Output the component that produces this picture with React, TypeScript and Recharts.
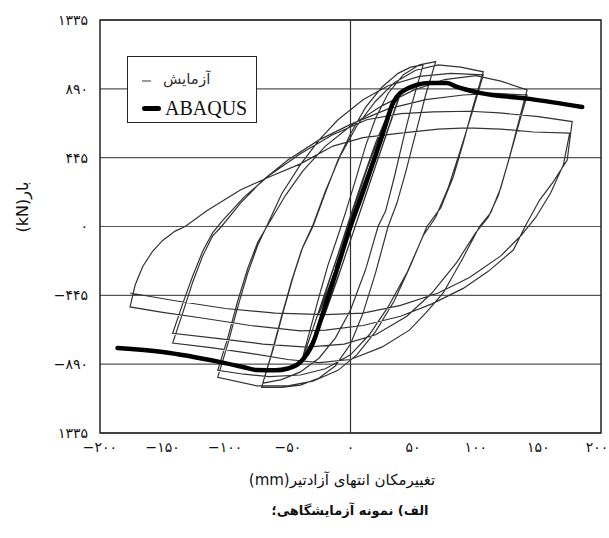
import React from 'react'
import {
  ComposedChart, Line, XAxis, YAxis, CartesianGrid, ReferenceLine, ReferenceArea
} from 'recharts'

type Pt = [number, number]

// محور ها
const xTicks = [-200, -150, -100, -50, 0, 50, 100, 150, 200]
const xTickLabels = ['−۲۰۰', '−۱۵۰', '−۱۰۰', '−۵۰', '۰', '۵۰', '۱۰۰', '۱۵۰', '۲۰۰']
const yTicks = [-1335, -890, -445, 0, 445, 890, 1335]
const yTickLabels = ['۱۳۳۵', '−۸۹۰', '−۴۴۵', '۰', '۴۴۵', '۸۹۰', '۱۳۳۵']

// متن ها
const xTitle = 'تغییرمکان انتهای آزادتیر(mm)'
const yTitle = 'بار(kN)'
const caption = 'الف) نمونه آزمایشگاهی؛'
const legendTest = 'آزمایش'
const legendModel = 'ABAQUS'

// ABAQUS (منحنی پوش)
const abaqusX = [-186, -150, -104, -86, -75, -60, -50, -40, -30, -22, -11, 0, 9, 19, 26, 34, 45, 63, 77, 85, 103, 143, 185]
const abaqusY = [-786, -812, -877, -908, -928, -930, -918, -877, -754, -560, -281, 0, 200, 437, 605, 800, 890, 928, 928, 902, 864, 825, 773]

// آزمایش - چرخه های کوچک
const cycle12: Pt[] = [
  [0, 0], [6, 140], [12, 270], [7, 150], [0, -20], [-6, -150], [-12, -270],
  [-6, -130], [0, 20], [6, 150], [12, 265], [6, 120], [0, -30], [-6, -160], [-12, -265],
]
const cycle25: Pt[] = [
  [-6, -120], [0, 30], [8, 220], [16, 400], [25, 560],
  [18, 420], [10, 230], [2, 20], [-8, -220], [-16, -400], [-25, -560],
  [-18, -410], [-8, -190], [2, 40], [10, 240], [18, 420], [25, 555],
  [17, 390], [8, 180], [0, -10], [-9, -230], [-17, -410], [-25, -555],
]
const cycle40: Pt[] = [
  [-16, -330], [-6, -90], [4, 150], [14, 390], [24, 600], [32, 760], [40, 870],
  [32, 680], [22, 440], [12, 200], [2, -40], [-8, -280], [-18, -500], [-28, -700], [-38, -850],
  [-30, -660], [-20, -420], [-10, -180], [0, 70], [10, 310], [20, 540], [30, 730], [40, 860],
  [31, 650], [20, 390], [10, 150], [0, -90], [-10, -330], [-20, -560], [-30, -740], [-38, -840],
]

// چرخه های بزرگ: شاخه بالارونده (up) و پایین رونده (down)
const up68a: Pt[] = [[-32, -660], [-25, -450], [-18, -250], [-10, -60], [-4, 90], [4, 300], [12, 520], [20, 700], [30, 860], [42, 980], [55, 1045], [68, 1066]]
const down68a: Pt[] = [[60, 850], [52, 600], [44, 350], [37, 150], [30, 0], [20, -300], [10, -560], [0, -760], [-12, -900], [-25, -980], [-40, -1025], [-55, -1040], [-71, -1040]]
const up68b: Pt[] = [[-63, -820], [-55, -580], [-47, -350], [-39, -150], [-30, 0], [-20, 220], [-10, 430], [0, 600], [12, 770], [25, 900], [38, 990], [48, 1030], [58, 1045]]
const down68b: Pt[] = [[50, 820], [42, 560], [35, 320], [28, 100], [22, 0], [12, -280], [0, -540], [-12, -720], [-25, -850], [-40, -940], [-55, -990], [-70, -1013]]

const up106a: Pt[] = [[-62, -800], [-54, -560], [-46, -330], [-38, -130], [-30, 10], [-20, 230], [-8, 460], [5, 650], [20, 810], [35, 930], [52, 1010], [70, 1045], [88, 1030], [106, 1000]]
const down106a: Pt[] = [[98, 780], [90, 540], [82, 320], [72, 120], [61, 0], [48, -250], [35, -480], [20, -680], [5, -830], [-10, -930], [-30, -1000], [-50, -1030], [-75, -1030], [-106, -975]]
const up106b: Pt[] = [[-98, -760], [-90, -520], [-82, -300], [-74, -120], [-67, 0], [-55, 210], [-40, 400], [-25, 560], [-10, 690], [10, 820], [30, 910], [55, 970], [80, 990], [106, 980]]
const down106b: Pt[] = [[98, 760], [88, 500], [78, 250], [68, 60], [58, -60], [45, -300], [30, -520], [15, -700], [0, -830], [-20, -920], [-40, -960], [-65, -970], [-85, -955], [-106, -930]]

const up141a: Pt[] = [[-98, -720], [-90, -480], [-82, -270], [-74, -100], [-66, 10], [-52, 200], [-38, 360], [-20, 520], [0, 650], [25, 780], [50, 880], [75, 950], [100, 975], [120, 940], [141, 883]]
const down141a: Pt[] = [[135, 700], [128, 480], [120, 250], [112, 90], [103, 0], [90, -200], [74, -430], [60, -560], [47, -670], [25, -780], [0, -860], [-25, -880], [-50, -860], [-80, -820], [-110, -785], [-142, -753]]
const up141b: Pt[] = [[-134, -560], [-126, -360], [-118, -190], [-110, -60], [-103, 0], [-88, 150], [-70, 300], [-50, 430], [-25, 560], [0, 660], [30, 760], [60, 820], [90, 850], [115, 860], [141, 850]]
const down141b: Pt[] = [[134, 650], [126, 420], [118, 200], [110, 60], [100, -40], [85, -230], [65, -430], [45, -580], [20, -700], [-5, -760], [-35, -780], [-70, -760], [-105, -725], [-142, -690]]

const up177a: Pt[] = [[-134, -500], [-126, -320], [-118, -160], [-110, -40], [-102, 40], [-85, 190], [-65, 330], [-40, 470], [-15, 590], [13, 690], [40, 730], [66, 741], [95, 745], [119, 734], [150, 710], [177, 678]]
const down177a: Pt[] = [[173, 430], [162, 290], [151, 171], [140, 10], [130, -152], [110, -290], [90, -400], [65, -500], [40, -580], [10, -640], [-20, -670], [-40, -675], [-80, -640], [-120, -590], [-150, -555], [-176, -520]]
const up177b: Pt[] = [[-172, -380], [-166, -260], [-158, -160], [-150, -90], [-140, -30], [-132, 0], [-115, 100], [-88, 236], [-65, 320], [-40, 405], [-14, 520], [10, 575], [40, 604], [70, 630], [93, 637], [120, 630], [146, 611], [175, 604]]
const down177b: Pt[] = [[170, 400], [160, 220], [148, 60], [136, -60], [120, -190], [95, -330], [70, -430], [40, -510], [10, -560], [-20, -570], [-60, -560], [-100, -530], [-140, -480], [-176, -430]]

const testPath: Pt[] = [
  ...cycle12, ...cycle25, ...cycle40,
  ...up68a, ...down68a, ...up68b, ...down68b,
  ...up106a, ...down106a, ...up106b, ...down106b,
  ...up141a, ...down141a, ...up141b, ...down141b,
  ...up177a, ...down177a, ...up177b, ...down177b,
]

const testData = testPath.map(([x, y]) => ({ x, y }))
const abaqusData = abaqusX.map((x, i) => ({ x, y: abaqusY[i] }))

const persianFont = "'DejaVu Sans', 'Noto Sans', sans-serif"
const latinFont = "'Liberation Serif', 'DejaVu Serif', serif"

export default function App() {
  return (
    <div style={{ position: 'absolute', left: 0, top: 0, width: 609, height: 538, background: '#fff' }}>
      <ComposedChart
        width={609}
        height={538}
        margin={{ top: 20, right: 8, bottom: 75, left: 10 }}
      >
        <CartesianGrid vertical={false} stroke="#555" strokeWidth={1.2} />
        <XAxis
          dataKey="x"
          type="number"
          domain={[-200, 200]}
          ticks={xTicks}
          allowDataOverflow
          height={30}
          tickLine={false}
          axisLine={false}
          tickMargin={3}
          tickFormatter={(v) => xTickLabels[xTicks.indexOf(v)]}
          tick={{ fill: '#111', fontSize: 14, fontFamily: persianFont }}
        />
        <YAxis
          type="number"
          domain={[-1335, 1335]}
          ticks={yTicks}
          allowDataOverflow
          width={90}
          tickLine={false}
          axisLine={false}
          tickMargin={6}
          tickFormatter={(v) => yTickLabels[yTicks.indexOf(v)]}
          tick={{ fill: '#111', fontSize: 14, fontFamily: persianFont }}
        />
        <ReferenceLine x={0} stroke="#333" strokeWidth={1.2} />
        <Line
          data={testData}
          dataKey="y"
          type="linear"
          stroke="#333"
          strokeWidth={1.2}
          dot={false}
          isAnimationActive={false}
        />
        <Line
          data={abaqusData}
          dataKey="y"
          type="monotone"
          stroke="#000"
          strokeWidth={4.5}
          strokeLinecap="round"
          dot={false}
          isAnimationActive={false}
        />
        <ReferenceArea x1={-200} x2={200} y1={-1335} y2={1335} fill="none" stroke="#222" strokeWidth={1.5} ifOverflow="visible" />
      </ComposedChart>

      {/* راهنما */}
      <div style={{
        position: 'absolute', left: 127, top: 56, width: 130, height: 67,
        background: '#fff', border: '1.2px solid #222', boxSizing: 'border-box'
      }}>
        <div style={{ position: 'absolute', left: 14, top: 23, width: 9, height: 2, background: '#999' }} />
        <div dir="rtl" style={{ position: 'absolute', left: 35, top: 12, fontFamily: persianFont, fontSize: 15, color: '#333', lineHeight: '20px' }}>{legendTest}</div>
        <div style={{ position: 'absolute', left: 14, top: 49, width: 19, height: 5, borderRadius: 2.5, background: '#000' }} />
        <div style={{ position: 'absolute', left: 37, top: 39, fontFamily: latinFont, fontSize: 20, color: '#111', lineHeight: '24px' }}>{legendModel}</div>
      </div>

      {/* عنوان محور عمودی */}
      <div dir="rtl" style={{
        position: 'absolute', left: 22, top: 207, transform: 'translate(-50%, -50%) rotate(-90deg)',
        fontFamily: persianFont, fontSize: 16, color: '#111', whiteSpace: 'nowrap'
      }}>
        {yTitle}
      </div>

      {/* عنوان محور افقی */}
      <div dir="rtl" style={{
        position: 'absolute', left: 342, top: 480, transform: 'translate(-50%, -50%)',
        fontFamily: persianFont, fontSize: 15, color: '#111', whiteSpace: 'nowrap'
      }}>
        {xTitle}
      </div>

      {/* زیرنویس */}
      <div dir="rtl" style={{
        position: 'absolute', left: 350, top: 510, transform: 'translate(-50%, -50%)',
        fontFamily: persianFont, fontSize: 13, fontWeight: 'bold', color: '#111', whiteSpace: 'nowrap'
      }}>
        {caption}
      </div>
    </div>
  )
}
